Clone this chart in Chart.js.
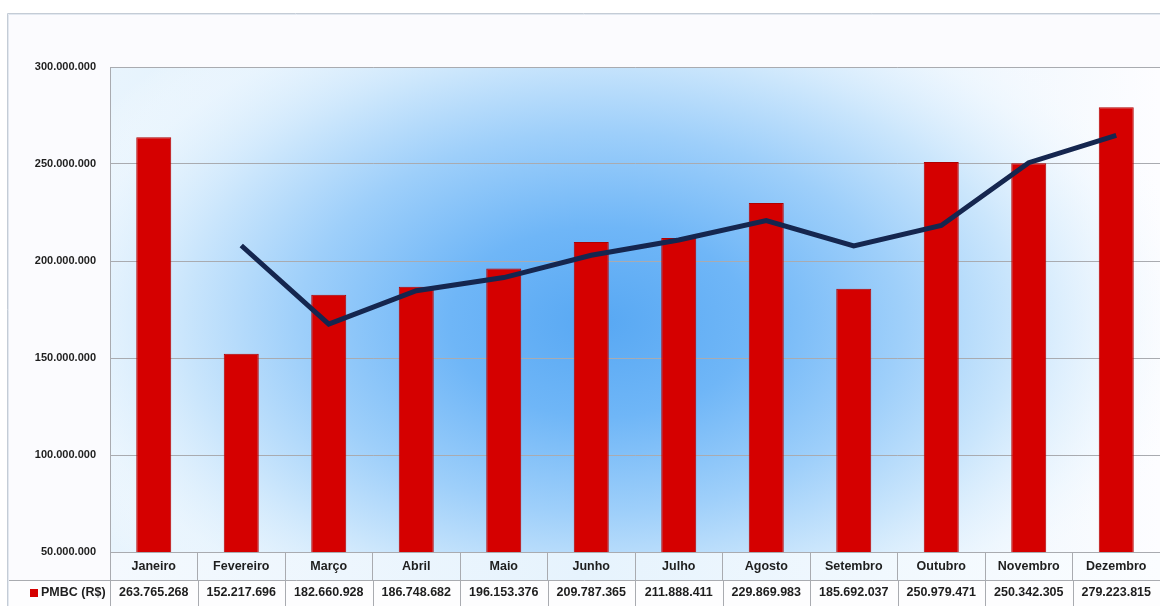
<!DOCTYPE html>
<html>
<head>
<meta charset="utf-8">
<script src="https://cdn.jsdelivr.net/npm/chart.js@4/dist/chart.umd.min.js"></script>
<style>
  html, body { margin: 0; padding: 0; background: #fff; }
  #wrap { position: relative; width: 1160px; height: 606px; }
</style>
</head>
<body>
<div id="wrap"><canvas id="pmbc"></canvas></div>
<script>
// monthly PMBC (R$) and its 2-month moving average
const months = ['Janeiro', 'Fevereiro', 'Março', 'Abril', 'Maio', 'Junho',
  'Julho', 'Agosto', 'Setembro', 'Outubro', 'Novembro', 'Dezembro'];
const pmbc = [263765268, 152217696, 182660928, 186748682, 196153376, 209787365,
  211888411, 229869983, 185692037, 250979471, 250342305, 279223815];
const movingAvg = [null, 207991482, 167439312, 184704805, 191451029, 202970371,
  210837888, 220879197, 207781010, 218335754, 250660888, 264783060];
const yTicks = [50000000, 100000000, 150000000, 200000000, 250000000, 300000000];
const seriesName = 'PMBC (R$)';

const FONT = "'Liberation Sans', Arial, sans-serif";
const GRID = '#a9abb0';
const RED = '#d50000';

const fmt = n => String(Math.round(n)).replace(/\B(?=(\d{3})+(?!\d))/g, '.');

// frame + blue "from center" fill behind the plot
const backdrop = {
  id: 'backdrop',
  beforeDraw(chart) {
    const { ctx, chartArea: a, width, height } = chart;
    ctx.save();
    ctx.fillStyle = '#ffffff';
    ctx.fillRect(0, 0, width, height);
    ctx.fillStyle = '#fbfbfe';
    ctx.fillRect(8, 14, width - 8, height - 14);
    ctx.strokeStyle = '#c4ccd6';
    ctx.lineWidth = 1;
    ctx.beginPath();
    ctx.moveTo(7.5, height);
    ctx.lineTo(7.5, 13.5);
    ctx.lineTo(width, 13.5);
    ctx.stroke();
    ctx.strokeStyle = '#e2e8f0';
    ctx.beginPath();
    ctx.moveTo(8.5, height);
    ctx.lineTo(8.5, 14.5);
    ctx.lineTo(width, 14.5);
    ctx.stroke();

    // faint tint behind the month row
    const row = ctx.createLinearGradient(a.left, 0, a.right, 0);
    row.addColorStop(0, '#f4f9fe');
    row.addColorStop(0.45, '#e6f3fd');
    row.addColorStop(1, '#fbfdff');
    ctx.fillStyle = row;
    ctx.fillRect(a.left, a.bottom, a.right - a.left, 28);

    const lin = ctx.createLinearGradient(a.left, 0, a.right, 0);
    lin.addColorStop(0, '#e8f4fd');
    lin.addColorStop(0.5, '#d6ecfc');
    lin.addColorStop(0.85, '#f2f8fe');
    lin.addColorStop(1, '#fdfdff');
    ctx.fillStyle = lin;
    ctx.fillRect(a.left, a.top, a.right - a.left, a.bottom - a.top);

    ctx.beginPath();
    ctx.rect(a.left, a.top, a.right - a.left, a.bottom - a.top);
    ctx.clip();
    const cx = 600, cy = 322, rx = 600, ry = 380;
    ctx.translate(cx, cy);
    ctx.scale(rx / ry, 1);
    const g = ctx.createRadialGradient(0, 0, 0, 0, 0, ry);
    g.addColorStop(0, '#58a8f3');
    g.addColorStop(0.25, '#6fb6f7');
    g.addColorStop(0.5, '#9ecffa');
    g.addColorStop(0.7, '#cbe6fc');
    g.addColorStop(0.88, 'rgba(236,246,254,0.6)');
    g.addColorStop(1, 'rgba(250,252,255,0)');
    ctx.fillStyle = g;
    ctx.beginPath();
    ctx.arc(0, 0, ry, 0, Math.PI * 2);
    ctx.fill();
    ctx.restore();
  }
};

// data table under the x axis: month row + value row with legend key
const dataTable = {
  id: 'dataTable',
  afterDraw(chart) {
    const { ctx, chartArea: a, width } = chart;
    const x = chart.scales.x;
    const rowSplit = a.bottom + 28;
    ctx.save();
    ctx.fillStyle = '#fdfdfe';
    ctx.fillRect(9, rowSplit, width - 9, 26);
    ctx.strokeStyle = GRID;
    ctx.lineWidth = 1;
    ctx.beginPath();
    ctx.moveTo(9, rowSplit + 0.5);
    ctx.lineTo(width, rowSplit + 0.5);
    for (let i = 0; i <= months.length; i++) {
      const px = Math.round(x.getPixelForValue(i - 0.5)) + 0.5;
      ctx.moveTo(px, rowSplit);
      ctx.lineTo(px, rowSplit + 26);
    }
    ctx.stroke();

    ctx.fillStyle = '#1e1e1e';
    ctx.font = 'bold 12.5px ' + FONT;
    ctx.textAlign = 'center';
    ctx.textBaseline = 'middle';
    months.forEach((m, i) => {
      const px = x.getPixelForValue(i);
      ctx.fillText(m, px, a.bottom + 15);
      ctx.fillText(fmt(pmbc[i]), px, rowSplit + 13);
    });

    ctx.fillStyle = RED;
    ctx.fillRect(30, rowSplit + 9, 8, 8);
    ctx.fillStyle = '#1e1e1e';
    ctx.textAlign = 'left';
    ctx.fillText(seriesName, 41, rowSplit + 13);
    ctx.restore();
  }
};

new Chart(document.getElementById('pmbc'), {
  data: {
    labels: months,
    datasets: [
      {
        type: 'line',
        label: 'Média móvel',
        data: movingAvg,
        borderColor: '#15264f',
        borderWidth: 5,
        pointRadius: 0,
        tension: 0,
        spanGaps: false,
        order: 0
      },
      {
        type: 'bar',
        label: seriesName,
        data: pmbc,
        backgroundColor: RED,
        borderColor: '#b00000',
        borderWidth: 1,
        categoryPercentage: 1,
        barPercentage: 0.4,
        order: 1
      }
    ]
  },
  options: {
    responsive: true,
    maintainAspectRatio: false,
    animation: false,
    layout: { padding: { left: 0, right: 0, top: 67, bottom: 0 } },
    plugins: {
      legend: { display: false },
      tooltip: { enabled: false }
    },
    scales: {
      x: {
        offset: true,
        grid: {
          offset: true,
          drawOnChartArea: false,
          tickLength: 28,
          color: GRID
        },
        border: { color: GRID },
        ticks: { display: false },
        afterFit(scale) { scale.height = 54; }
      },
      y: {
        min: 50000000,
        max: 300000000,
        afterBuildTicks(scale) {
          scale.ticks = yTicks.map(v => ({ value: v }));
        },
        grid: { color: GRID, drawTicks: false },
        border: { color: GRID },
        ticks: {
          padding: 14,
          color: '#1e1e1e',
          font: { family: FONT, size: 11, weight: 'bold' },
          callback: v => fmt(v)
        },
        afterFit(scale) { scale.width = 110; }
      }
    }
  },
  plugins: [backdrop, dataTable]
});
</script>
</body>
</html>
